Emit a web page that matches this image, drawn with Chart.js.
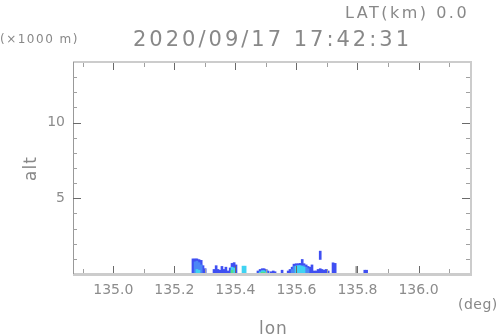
<!DOCTYPE html>
<html>
<head>
<meta charset="utf-8">
<script src="https://cdn.jsdelivr.net/npm/chart.js@4"></script>
<style>
  body { margin: 0; background: #fff; }
  #wrap { width: 498px; height: 336px; }
</style>
</head>
<body>
<div id="wrap"><canvas id="rhiChart"></canvas></div>
<script>
// x = lon (deg), y = top of echo (km)
const lonBlue = [135.261, 135.268, 135.274, 135.281, 135.288, 135.294, 135.301,
    135.330, 135.337, 135.343, 135.350, 135.356, 135.363, 135.369, 135.376,
    135.383, 135.389, 135.396, 135.402,
    135.474, 135.481, 135.488, 135.494, 135.501, 135.507,
    135.517, 135.524, 135.530, 135.553,
    135.573, 135.579, 135.586, 135.592, 135.599, 135.606, 135.612, 135.619, 135.625,
    135.632, 135.638, 135.645, 135.651, 135.658, 135.665, 135.671, 135.678, 135.684,
    135.691, 135.697, 135.704, 135.720, 135.727,
    135.824, 135.830];
const altBlue = [1.0, 1.0, 1.0, 0.95, 0.9, 0.55, 0.35,
    0.3, 0.55, 0.3, 0.25, 0.5, 0.3, 0.45, 0.2,
    0.4, 0.7, 0.75, 0.6,
    0.2, 0.3, 0.35, 0.35, 0.3, 0.2,
    0.15, 0.2, 0.15, 0.25,
    0.2, 0.3, 0.45, 0.65, 0.68, 0.68, 0.7, 0.96, 0.68,
    0.6, 0.5, 0.45, 0.6, 0.2, 0.2, 0.3, 0.35, 0.3,
    0.25, 0.3, 0.2, 0.74, 0.7,
    0.25, 0.25];

const lonLight = [135.268, 135.274, 135.281, 135.288,
    135.586, 135.592, 135.599, 135.606, 135.612, 135.619, 135.625, 135.632, 135.638];
const altLight = [0.8, 0.85, 0.75, 0.6,
    0.3, 0.5, 0.55, 0.55, 0.55, 0.55, 0.55, 0.45, 0.35];

const lonCyan = [135.274, 135.281, 135.389, 135.396, 135.425, 135.432,
    135.481, 135.488, 135.494, 135.501,
    135.599, 135.606, 135.612, 135.619, 135.625];
const altCyan = [0.3, 0.25, 0.45, 0.4, 0.52, 0.52,
    0.15, 0.22, 0.22, 0.15,
    0.5, 0.55, 0.55, 0.5, 0.45];

const lonGreen = [135.389, 135.488, 135.494];
const altGreen = [0.25, 0.12, 0.12];

// floating echo aloft
const lonAloft = [135.678];
const altAloftLo = [0.96];
const altAloftHi = [1.51];

const lonMark = [135.796];
const altMark = [0.5];

const xMajor = [135.0, 135.2, 135.4, 135.6, 135.8, 136.0];
const xMinor = [134.9, 135.1, 135.3, 135.5, 135.7, 135.9, 136.1];
const yMajor = [5, 10];
const yMinor = [1, 2, 3, 4, 6, 7, 8, 9, 11, 12, 13];

function cols(lon, alt, lo) {
    return lon.map((x, i) => ({ x: x, y: [lo ? lo[i] : 0, alt[i]] }));
}

const fontFam = "'DejaVu Sans', sans-serif";

const frameAndText = {
    id: 'frameAndText',
    afterDraw(chart) {
        const ctx = chart.ctx;
        const a = chart.chartArea;
        const xs = chart.scales.x, ys = chart.scales.y;
        const L = Math.round(a.left), R = Math.round(a.right);
        const T = Math.round(a.top), B = Math.round(a.bottom);
        ctx.save();
        // frame
        ctx.fillStyle = '#cccccc';
        ctx.fillRect(L, T - 1, R - L + 1, 2);
        ctx.fillRect(R - 1, T - 1, 2, B - T + 2);
        ctx.fillRect(L, B - 1, R - L + 1, 3);
        ctx.fillStyle = '#999999';
        ctx.fillRect(L, T, 1, B - T);

        // ticks, pointing inward
        function vt(v, len, col) {
            const px = Math.round(xs.getPixelForValue(v));
            ctx.fillStyle = col;
            ctx.fillRect(px, B - 1 - len, 1, len);
            ctx.fillRect(px, T + 1, 1, len);
        }
        function ht(v, len, col) {
            const py = Math.round(ys.getPixelForValue(v));
            ctx.fillStyle = col;
            ctx.fillRect(L, py, len, 1);
            ctx.fillRect(R - 1 - len, py, len, 1);
        }
        xMajor.forEach(v => vt(v, 7, '#6a6a6a'));
        xMinor.forEach(v => vt(v, 4, '#a0a0a0'));
        yMajor.forEach(v => ht(v, 8, '#6a6a6a'));
        yMinor.forEach(v => ht(v, 4, '#a0a0a0'));

        // texts
        ctx.fillStyle = '#888888';
        ctx.textBaseline = 'alphabetic';
        ctx.textAlign = 'left';
        ctx.font = '16px ' + fontFam;
        ctx.letterSpacing = '2.5px';
        ctx.fillText('LAT(km) 0.0', 345, 18);
        ctx.font = '21px ' + fontFam;
        ctx.letterSpacing = '3px';
        ctx.fillText('2020/09/17 17:42:31', 133, 46);
        ctx.font = '12px ' + fontFam;
        ctx.letterSpacing = '1.5px';
        ctx.fillText('(\u00d71000 m)', 0, 43);
        ctx.font = '14px ' + fontFam;
        ctx.letterSpacing = '0.5px';
        ctx.fillText('(deg)', 458, 309);
        ctx.font = '17px ' + fontFam;
        ctx.letterSpacing = '1px';
        ctx.fillText('lon', 259, 334);
        ctx.save();
        ctx.translate(36, 181);
        ctx.rotate(-Math.PI / 2);
        ctx.fillText('alt', 0, 0);
        ctx.restore();
        ctx.restore();
    }
};

new Chart("rhiChart", {
    type: "bar",
    data: {
        datasets: [
            { data: cols(lonGreen, altGreen), backgroundColor: '#4fe08c', order: 1 },
            { data: cols(lonCyan, altCyan), backgroundColor: '#3fd3f2', order: 2 },
            { data: cols(lonLight, altLight), backgroundColor: '#4c86f6', order: 3 },
            { data: cols(lonBlue, altBlue), backgroundColor: '#3f4ff2', order: 4 },
            { data: cols(lonAloft, altAloftHi, altAloftLo), backgroundColor: '#3f4ff2', order: 4 },
            { data: cols(lonMark, altMark), backgroundColor: '#999999', barThickness: 1, order: 4 }
        ]
    },
    options: {
        responsive: true,
        maintainAspectRatio: false,
        animation: false,
        layout: { padding: { left: 0, top: 62, right: 27, bottom: 0 } },
        datasets: { bar: { grouped: false, barThickness: 2 } },
        plugins: { legend: { display: false }, tooltip: { enabled: false } },
        scales: {
            x: {
                type: 'linear',
                offset: false,
                min: 134.868,
                max: 136.172,
                grid: { display: false, drawTicks: false, offset: false },
                border: { display: false },
                afterBuildTicks: s => { s.ticks = xMajor.map(v => ({ value: v })); },
                afterFit: s => { s.height = 62; },
                ticks: {
                    padding: 8,
                    color: '#8c8c8c',
                    font: { family: fontFam, size: 14 },
                    maxRotation: 0,
                    callback: v => v.toFixed(1)
                }
            },
            y: {
                min: 0,
                max: 14,
                grid: { display: false, drawTicks: false },
                border: { display: false },
                afterBuildTicks: s => { s.ticks = yMajor.map(v => ({ value: v })); },
                afterFit: s => { s.width = 73; },
                ticks: {
                    padding: 8,
                    color: '#8c8c8c',
                    font: { family: fontFam, size: 14 },
                    callback: v => String(v)
                }
            }
        }
    },
    plugins: [frameAndText]
});
</script>
</body>
</html>
